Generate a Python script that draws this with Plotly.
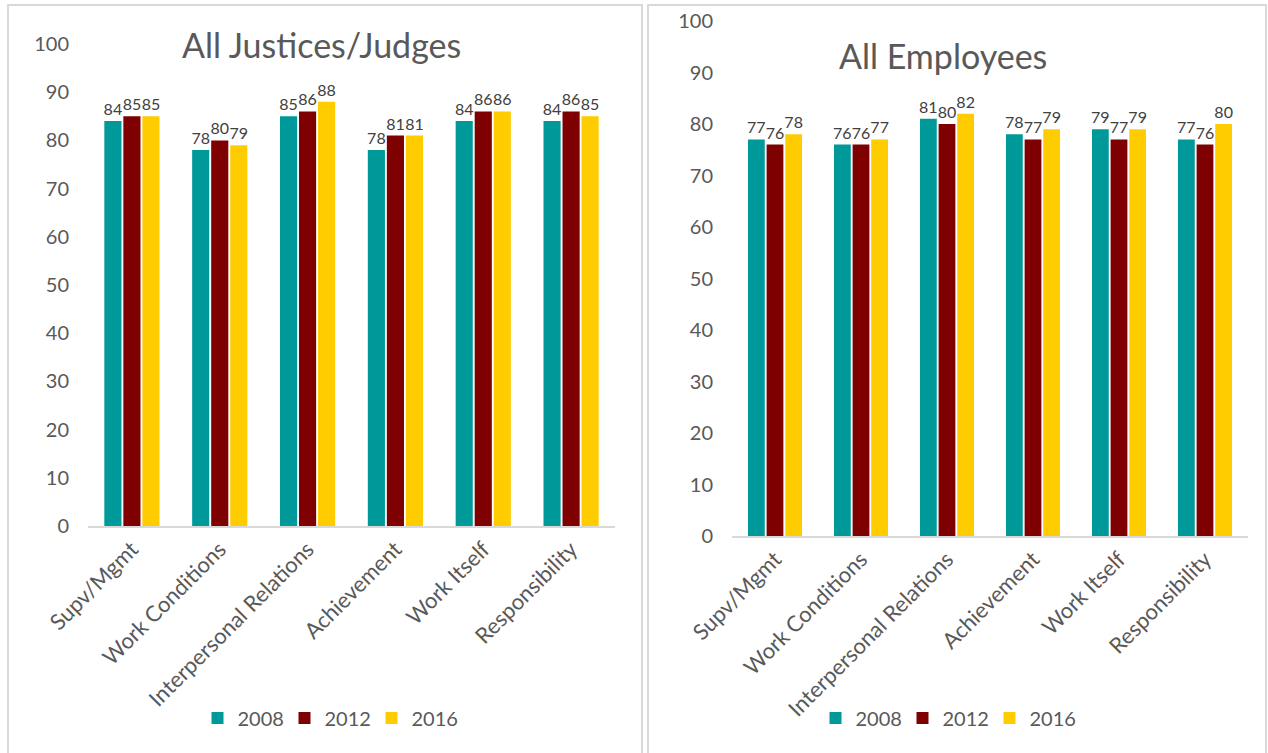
import plotly.graph_objects as go

categories = ["Supv/Mgmt", "Work Conditions", "Interpersonal Relations",
              "Achievement", "Work Itself", "Responsibility"]
years = ["2008", "2012", "2016"]
colors = ["#009999", "#7F0000", "#FFCC00"]

judges_2008 = [84, 78, 85, 78, 84, 84]
judges_2012 = [85, 80, 86, 81, 86, 86]
judges_2016 = [85, 79, 88, 81, 86, 85]

employees_2008 = [77, 76, 81, 78, 79, 77]
employees_2012 = [76, 76, 80, 77, 77, 76]
employees_2016 = [78, 77, 82, 79, 79, 80]

W, H = 1268, 753
FONT = "Lato, Carlito, Calibri, sans-serif"
TXT = "#595959"


def px(x):
    return x / W


def py(y):
    return 1 - y / H


fig = go.Figure()

panels = [
    ("x", "y", "legend", [judges_2008, judges_2012, judges_2016]),
    ("x2", "y2", "legend2", [employees_2008, employees_2012, employees_2016]),
]
for xa, ya, lg, series in panels:
    for name, col, vals in zip(years, colors, series):
        fig.add_trace(go.Bar(
            x=categories, y=vals, name=name, marker_color=col,
            marker_line_width=0,
            text=[str(v) for v in vals], textposition="outside",
            textfont=dict(size=16, color="#404040", family=FONT),
            constraintext="none", cliponaxis=False,
            xaxis=xa, yaxis=ya, legend=lg,
        ))

common_x = dict(tickangle=-45, showgrid=False, showline=True, linecolor="#D9D9D9",
                linewidth=1.5, ticks="", automargin=False,
                tickfont=dict(size=22, color=TXT, family=FONT))
common_y = dict(range=[0, 100], dtick=10, showgrid=False, showline=False,
                zeroline=False, ticks="", ticklabelstandoff=18, automargin=False,
                tickfont=dict(size=20, color=TXT, family=FONT))

legend_common = dict(orientation="h", xanchor="center", yanchor="middle",
                     font=dict(size=20, color=TXT, family=FONT), itemwidth=30,
                     entrywidth=42, traceorder="normal", bgcolor="rgba(0,0,0,0)")

fig.update_layout(
    width=W, height=H,
    margin=dict(l=0, r=0, t=0, b=0, pad=0, autoexpand=False),
    paper_bgcolor="white", plot_bgcolor="white",
    barmode="group", bargap=0.35, bargroupgap=0.1,
    font=dict(family=FONT, color=TXT),
    xaxis=dict(domain=[px(88), px(615)], anchor="y", **common_x),
    yaxis=dict(domain=[py(526), py(44)], anchor="x", **common_y),
    xaxis2=dict(domain=[px(732), px(1248)], anchor="y2", **common_x),
    yaxis2=dict(domain=[py(536), py(21)], anchor="x2", **common_y),
    legend=dict(x=px(328), y=py(718), **legend_common),
    legend2=dict(x=px(946), y=py(718), **legend_common),
    annotations=[
        dict(text="All Justices/Judges", x=px(322), y=py(45), xref="paper", yref="paper",
             showarrow=False, xanchor="center", yanchor="middle",
             font=dict(size=34, color=TXT, family=FONT)),
        dict(text="All Employees", x=px(943), y=py(55), xref="paper", yref="paper",
             showarrow=False, xanchor="center", yanchor="middle",
             font=dict(size=34, color=TXT, family=FONT)),
    ],
    shapes=[
        dict(type="rect", xref="paper", yref="paper", x0=px(8), x1=px(642),
             y0=py(760), y1=py(5), line=dict(color="#D9D9D9", width=2)),
        dict(type="rect", xref="paper", yref="paper", x0=px(648), x1=px(1266),
             y0=py(760), y1=py(5), line=dict(color="#D9D9D9", width=2)),
    ],
)

fig.write_html("out.html")
